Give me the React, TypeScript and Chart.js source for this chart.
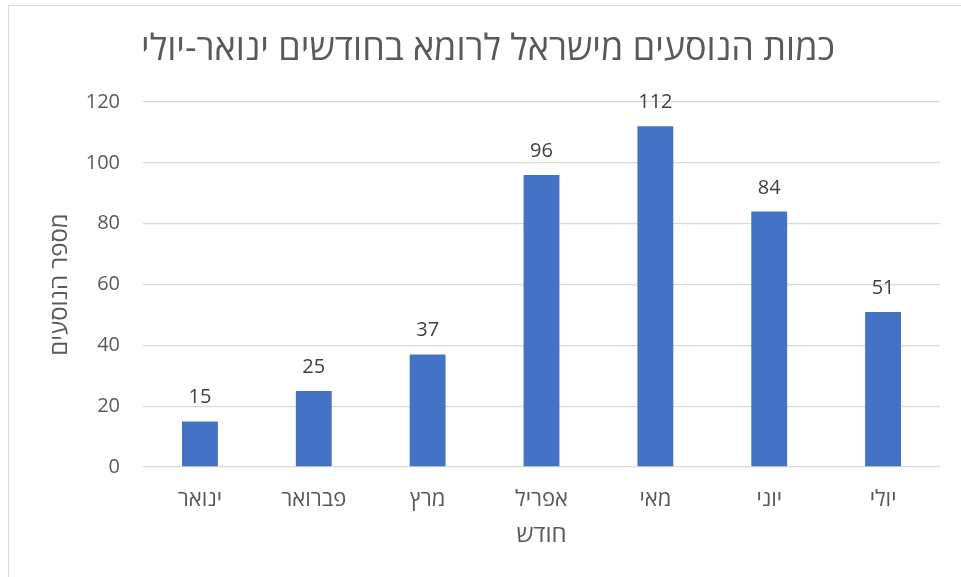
import React, { useEffect, useRef } from "react";
import { Chart, registerables } from "chart.js";

Chart.register(...registerables);

const categories = ["ינואר", "פברואר", "מרץ", "אפריל", "מאי", "יוני", "יולי"];
const passengers = [15, 25, 37, 96, 112, 84, 51];
const yTicks = [0, 20, 40, 60, 80, 100, 120];
const chartTitle = "כמות הנוסעים מישראל לרומא בחודשים ינואר-יולי";
const yTitle = "מספר הנוסעים";
const xTitle = "חודש";

const FONT = "'Open Sans', 'DejaVu Sans', sans-serif";
const TEXT = "#595959";
const GRID = "#d9d9d9";
const BAR = "#4472C4";

const dataLabels = {
  id: "dataLabels",
  afterDatasetsDraw(chart: any) {
    const ctx = chart.ctx;
    const meta = chart.getDatasetMeta(0);
    ctx.save();
    ctx.font = `20px ${FONT}`;
    ctx.fillStyle = "#404040";
    ctx.textAlign = "center";
    ctx.textBaseline = "alphabetic";
    meta.data.forEach((bar: any, i: number) => {
      ctx.fillText(String(chart.data.datasets[0].data[i]), bar.x, bar.y - 18);
    });
    ctx.restore();
  },
};

export default function App() {
  const ref = useRef<HTMLCanvasElement>(null);
  useEffect(() => {
    document.body.style.margin = "0";
    const chart = new Chart(ref.current!, {
      type: "bar",
      data: {
        labels: categories,
        datasets: [
          {
            data: passengers,
            backgroundColor: BAR,
            borderWidth: 0,
            barPercentage: 0.315,
            categoryPercentage: 1,
          },
        ],
      },
      options: {
        responsive: false,
        animation: false,
        devicePixelRatio: 1,
        layout: { padding: { left: 36, right: 21, top: 0, bottom: 0 } },
        plugins: {
          legend: { display: false },
          tooltip: { enabled: false },
          title: {
            display: true,
            text: chartTitle,
            color: TEXT,
            font: { family: FONT, size: 36, weight: "normal", lineHeight: 1.2 },
            padding: { top: 28.4, bottom: 30.4 },
          },
        },
        scales: {
          x: {
            grid: { display: false, drawTicks: false },
            border: { display: false },
            ticks: {
              color: TEXT,
              font: { family: FONT, size: 22 },
              padding: 20,
              maxRotation: 0,
            },
            title: {
              display: true,
              text: xTitle,
              color: TEXT,
              font: { family: FONT, size: 24, lineHeight: 1.2 },
              padding: { top: 0, bottom: 27.6 },
            },
            afterFit: (s: any) => {
              s.height = 110;
            },
          },
          y: {
            min: 0,
            max: 120,
            afterBuildTicks: (s: any) => {
              s.ticks = yTicks.map((v) => ({ value: v }));
            },
            grid: { color: GRID, lineWidth: 1.3, drawTicks: false },
            border: { display: false },
            ticks: {
              color: TEXT,
              font: { family: FONT, size: 20 },
              padding: 23,
            },
            title: {
              display: true,
              text: yTitle,
              color: TEXT,
              font: { family: FONT, size: 24, lineHeight: 1.2 },
              padding: { top: 9.6, bottom: 0 },
            },
            afterFit: (s: any) => {
              s.width = 107;
            },
          },
        },
      },
      plugins: [dataLabels],
    });
    return () => chart.destroy();
  }, []);

  return (
    <div style={{ position: "relative", width: 961, height: 577, overflow: "hidden", background: "#fff" }}>
      <div
        style={{
          position: "absolute",
          left: 8,
          top: 5,
          width: 1000,
          height: 1000,
          borderLeft: `1px solid ${GRID}`,
          borderTop: `1px solid ${GRID}`,
        }}
      />
      <canvas ref={ref} width={961} height={577} style={{ position: "absolute", left: 0, top: 0 }} />
    </div>
  );
}
